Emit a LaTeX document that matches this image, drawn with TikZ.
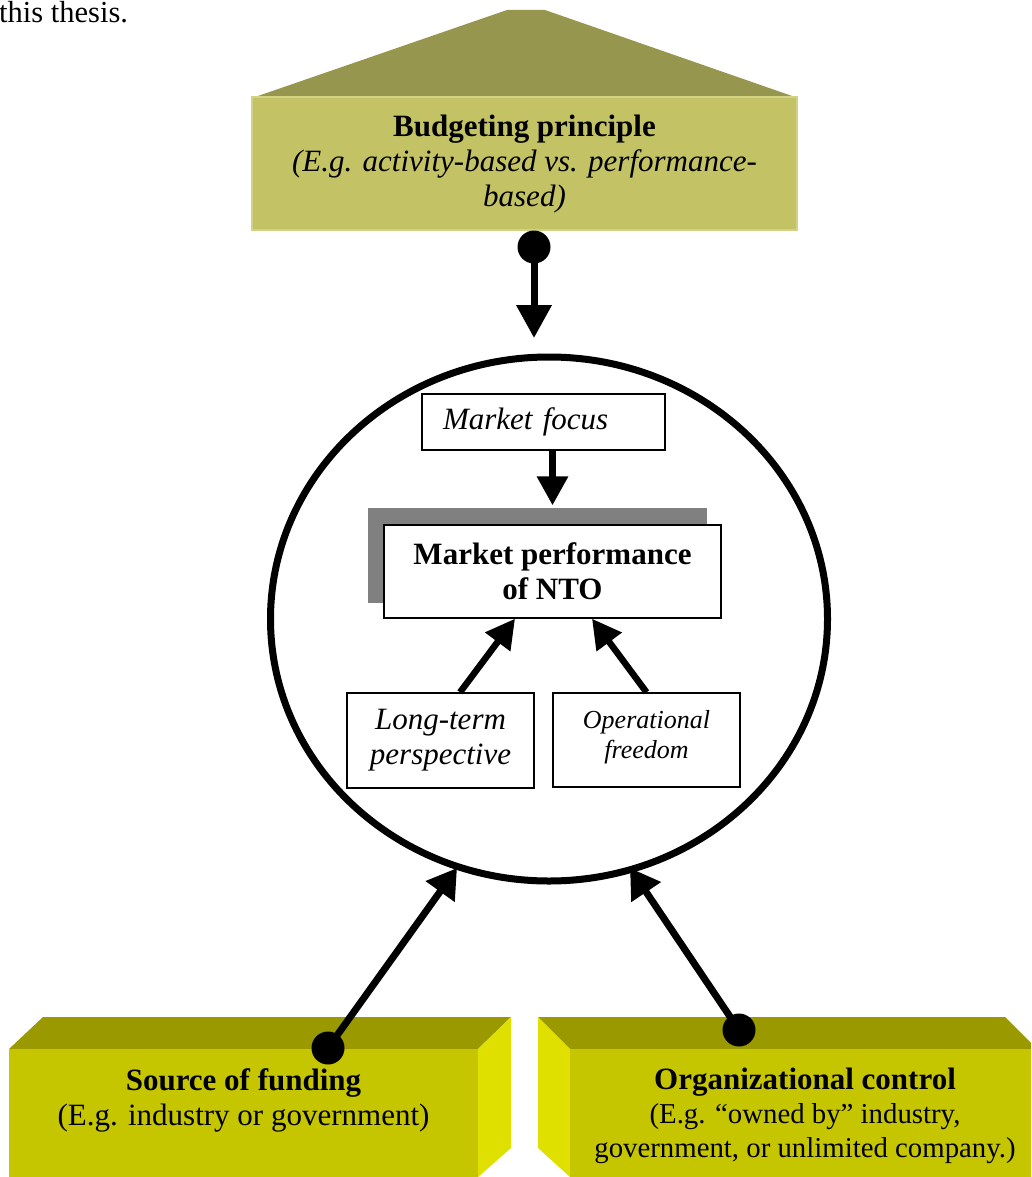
\documentclass[tikz,border=0pt]{standalone}
\usepackage{fontspec}
\setmainfont{Liberation Serif}
\usetikzlibrary{arrows.meta,shapes.geometric,calc}

\definecolor{roofolive}{RGB}{151,150,78}
\definecolor{budgetfill}{RGB}{195,194,100}
\definecolor{budgetedge}{RGB}{210,210,135}
\definecolor{slabtop}{RGB}{154,154,0}
\definecolor{slabfront}{RGB}{198,198,0}
\definecolor{slabside}{RGB}{224,224,0}
\definecolor{shadowgray}{RGB}{128,128,128}

\begin{document}
\begin{tikzpicture}[x=1pt,y=-1pt,
  every node/.style={font=\fontsize{31}{35}\selectfont, inner sep=0pt},
  frame/.style={draw=black, line width=1.4pt, fill=white, align=center},
  knob/.style={circle, fill=black, minimum size=33pt},
  link/.style={line width=7pt, -{Triangle[length=33pt,width=34pt]}},
  footlink/.style={line width=7pt, -{Triangle[length=29pt,width=34pt]}},
  innerlink/.style={line width=6.5pt, -{Triangle[length=29pt,width=30pt]}}]

\useasboundingbox (0,0) rectangle (1031,1177);

% closing words of the preceding sentence
\node[anchor=base west, font=\fontsize{30.5}{35}\selectfont] (caption) at (-1,23) {this thesis.};

% budgeting principle: box with a sloped roof
\fill[roofolive] (255,97) -- (507,10) -- (545,10) -- (795,97) -- cycle;
\node[draw=budgetedge, line width=1.5pt, fill=budgetfill, minimum width=545pt,
      minimum height=133pt, align=center, text depth=6pt] (budget) at (524.5,163.5)
  {\textbf{Budgeting principle}\\\textit{(E.g. activity-based vs. performance-}\\\textit{based)}};

% the NTO circle
\node[draw, ellipse, line width=7pt, minimum width=557pt, minimum height=524pt] (core) at (549,619) {};

% boxes inside the circle
\node[frame, align=left, text width=201pt, inner xsep=21pt, minimum height=56pt] (focus) at (543.5,422)
  {\textit{Market focus}};
\fill[shadowgray] (368,508) rectangle (707,603);
\node[frame, minimum width=337pt, minimum height=93pt] (perf) at (552.5,571.5)
  {\textbf{Market performance}\\\textbf{of NTO}};
\node[frame, minimum width=187pt, minimum height=95pt] (lt) at (440.5,740.5)
  {\textit{Long-term}\\\textit{perspective}};
\node[frame, minimum width=187pt, minimum height=94pt, text depth=12pt,
      font=\fontsize{26}{30}\selectfont] (op) at (646.5,740)
  {\textit{Operational}\\\textit{freedom}};

% source of funding slab
\fill[slabtop] (9,1049) -- (43,1017) -- (511,1017) -- (478,1049) -- cycle;
\fill[slabside] (478,1049) -- (511,1017) -- (511,1148) -- (478,1177) -- cycle;
\node[fill=slabfront, minimum width=469pt, minimum height=128pt] (fund) at (243.5,1113) {};
\node[align=center] (fundtxt) at (243.5,1100)
  {\textbf{Source of funding}\\(E.g. industry or government)};

% organizational control slab
\fill[slabtop] (538,1017) -- (1005,1017) -- (1031,1043) -- (1031,1049) -- (570,1049) -- cycle;
\fill[slabside] (538,1017) -- (570,1049) -- (570,1177) -- (538,1148) -- cycle;
\node[fill=slabfront, minimum width=461pt, minimum height=128pt] (ctrl) at (800.5,1113) {};
\node[align=center, font=\fontsize{28.8}{34}\selectfont] (ctrltxt) at (805,1116)
  {{\fontsize{31}{34}\selectfont\textbf{Organizational control}}\\(E.g. “owned by” industry,\\government, or unlimited company.)};

% connector ends
\node[knob] (topknob) at (534,247) {};
\node[knob] (fundknob) at (328,1048) {};
\node[knob] (ctrlknob) at (739,1030) {};
\coordinate (toptip) at (534,338);
\coordinate (tipL) at (457,868);
\coordinate (tipR) at (630,868);

% connectors
\draw[link] (topknob.center) -- (toptip);
\draw[footlink] (fundknob.center) -- (tipL);
\draw[footlink] (ctrlknob.center) -- (tipR);
\draw[innerlink] (focus.south -| perf.north) -- ($(perf.north)+(0,-19)$);
\draw[innerlink] ($(lt.north)+(19.5,0)$) -- ($(perf.south)+(-37.5,0)$);
\draw[innerlink] (op.north) -- ($(perf.south)+(39.5,0)$);
\end{tikzpicture}
\end{document}
